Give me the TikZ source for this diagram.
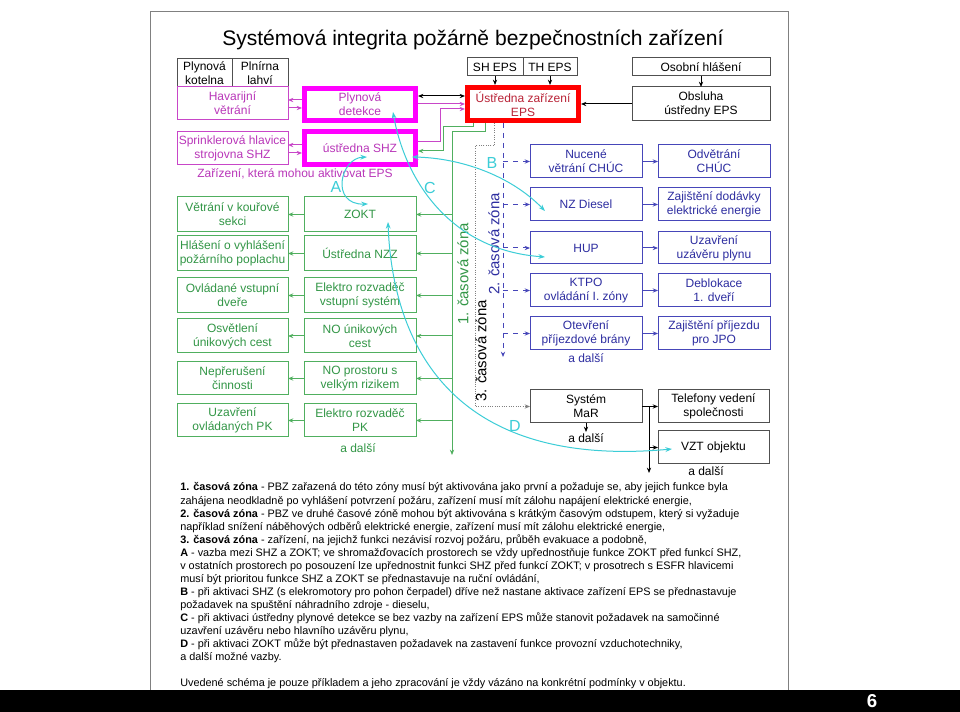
\documentclass[tikz,border=0pt]{standalone}
\usepackage{fontspec}
\setmainfont{Liberation Sans}
\usetikzlibrary{arrows.meta}
\definecolor{mg}{RGB}{200,70,200}
\definecolor{mgt}{RGB}{185,55,185}
\definecolor{mgk}{RGB}{255,0,255}
\definecolor{gr}{RGB}{80,175,95}
\definecolor{grt}{RGB}{50,150,70}
\definecolor{bl}{RGB}{70,70,185}
\definecolor{blt}{RGB}{45,45,160}
\definecolor{rd}{RGB}{255,0,0}
\definecolor{rdt}{RGB}{185,35,55}
\definecolor{cy}{RGB}{60,205,215}
\definecolor{gy}{RGB}{80,80,80}
\newcommand{\bxfont}{\fontsize{9}{10.5}\selectfont}
\newcommand{\mybox}[7]{\node[#1, minimum width={(#4-#2)*0.75pt}, minimum height={(#5-#3)*0.75pt}] (#6) at ({(#2+#4)/2},{(#3+#5)/2}) {#7};}
\newcommand{\fnline}[2]{\node[fnt, anchor=base west] (fn#1) at (180,{491+13.05*#1}) {#2};}
\begin{document}
\begin{tikzpicture}[x=0.75pt,y=-0.75pt,
  basebx/.style={draw, inner sep=1pt, outer sep=0pt, align=center, font=\bxfont, line width=0.75pt},
  kbx/.style={basebx, draw=gy, text=black},
  mbx/.style={basebx, draw=mg, text=mgt},
  mkbx/.style={basebx, draw=mgk, line width=3.75pt, outer sep=1.875pt, text=mgt},
  rbx/.style={basebx, draw=rd, line width=3.75pt, outer sep=1.875pt, text=rdt},
  gbx/.style={basebx, draw=gr, text=grt},
  bbx/.style={basebx, draw=bl, text=blt},
  ar/.style={line width=0.75pt, -{Stealth[length=4pt,width=3.2pt]}},
  dar/.style={line width=0.75pt, {Stealth[length=4pt,width=3.2pt]}-{Stealth[length=4pt,width=3.2pt]}},
  car/.style={cy, line width=0.75pt, {Stealth[length=5pt,width=3.6pt]}-{Stealth[length=5pt,width=3.6pt]}},
  lbl/.style={inner sep=1pt, font=\bxfont},
  cl/.style={text=cy, inner sep=0pt, font=\fontsize{12}{14}\selectfont},
  zl/.style={rotate=90, inner sep=0pt, font=\fontsize{11.2}{13}\selectfont},
  fnt/.style={inner sep=0pt, font=\fontsize{8.15}{9.5}\selectfont}
]
\fill[white] (0,0) rectangle (960,712);
\useasboundingbox (0,0) rectangle (960,712);
\draw[gray, line width=0.75pt] (150,12) rectangle (788,690);
\fill[black] (0,690) rectangle (960,712);
\node[text=white, font=\bfseries\fontsize{14}{14}\selectfont, inner sep=0pt] (pgno) at (872,701.5) {6};

\node[anchor=base west, inner sep=0pt, font=\fontsize{15.8}{18}\selectfont] (title) at (222,46) {Systémová integrita požárně bezpečnostních zařízení};

% top left
\mybox{kbx}{177}{59}{232}{87}{kot}{Plynová\\kotelna}
\mybox{kbx}{232}{59}{288}{87}{pln}{Plnírna\\lahví}
\mybox{mbx}{177}{87}{288}{120}{hav}{Havarijní\\větrání}
\mybox{mkbx}{304.5}{88.5}{415.5}{120.5}{det}{Plynová\\detekce}
\mybox{mbx}{177}{132}{288}{165}{spr}{Sprinklerová hlavice\\strojovna SHZ}
\mybox{mkbx}{304.5}{131.5}{415.5}{164.5}{shz}{ústředna SHZ}
\node[lbl, text=mgt] (zar) at (295,174) {Zařízení, která mohou aktivovat EPS};

% top right
\mybox{kbx}{467}{58}{523}{76}{sh}{SH EPS}
\mybox{kbx}{523}{58}{577}{76}{th}{TH EPS}
\mybox{kbx}{632}{58}{770}{76}{os}{Osobní hlášení}
\mybox{rbx}{467.5}{87.5}{578.5}{120.5}{eps}{Ústředna zařízení\\EPS}
\mybox{kbx}{632}{87}{770}{121}{obs}{Obsluha\\ústředny EPS}

% green boxes
\mybox{gbx}{177}{197}{288}{232}{g1}{Větrání v kouřové\\sekci}
\mybox{gbx}{304}{197}{416}{232}{zokt}{ZOKT}
\mybox{gbx}{177}{236}{288}{271}{g2}{Hlášení o vyhlášení\\požárního poplachu}
\mybox{gbx}{304}{236}{416}{271}{nzz}{Ústředna NZZ}
\mybox{gbx}{177}{278}{288}{313}{g3}{Ovládané vstupní\\dveře}
\mybox{gbx}{304}{278}{416}{313}{erv}{Elektro rozvaděč\\vstupní systém}
\mybox{gbx}{177}{319}{288}{353}{g4}{Osvětlení\\únikových cest}
\mybox{gbx}{304}{319}{416}{353}{nou}{NO únikových\\cest}
\mybox{gbx}{177}{362}{288}{395}{g5}{Nepřerušení\\činnosti}
\mybox{gbx}{304}{362}{416}{395}{nop}{NO prostoru s\\velkým rizikem}
\mybox{gbx}{177}{404}{288}{437}{g6}{Uzavření\\ovládaných PK}
\mybox{gbx}{304}{404}{416}{437}{epk}{Elektro rozvaděč\\PK}
\node[lbl, text=grt] (gdal) at (358,448) {a další};

% blue boxes
\mybox{bbx}{530}{145}{642}{178}{nuc}{Nucené\\větrání CHÚC}
\mybox{bbx}{658}{145}{770}{178}{odv}{Odvětrání\\CHÚC}
\mybox{bbx}{530}{188}{642}{221}{nzd}{NZ Diesel}
\mybox{bbx}{658}{188}{770}{221}{zaj}{Zajištění dodávky\\elektrické energie}
\mybox{bbx}{530}{232}{642}{264}{hup}{HUP}
\mybox{bbx}{658}{232}{770}{264}{uza}{Uzavření\\uzávěru plynu}
\mybox{bbx}{530}{274}{642}{307}{ktpo}{KTPO\\ovládání I. zóny}
\mybox{bbx}{658}{274}{770}{307}{deb}{Deblokace\\1. dveří}
\mybox{bbx}{530}{317}{642}{350}{otv}{Otevření\\příjezdové brány}
\mybox{bbx}{658}{317}{770}{350}{jpo}{Zajištění příjezdu\\pro JPO}
\node[lbl, text=blt] (bdal) at (586,358) {a další};

% black bottom
\mybox{kbx}{530}{390}{642}{423}{mar}{Systém\\MaR}
\mybox{kbx}{658}{390}{769}{423}{tel}{Telefony vedení\\společnosti}
\mybox{kbx}{658}{431}{769}{464}{vzt}{VZT objektu}
\node[lbl, anchor=north] (mdal) at (586,432) {a další};
\node[lbl] (vdal) at (706,471) {a další};

% zone labels
\node[zl, text=grt] (z1) at (463,274) {1. časová zóna};
\node[zl, text=blt] (z2) at (494,244) {2. časová zóna};
\node[zl, text=black] (z3) at (481,351) {3. časová zóna};

% magenta connectors
\draw[ar, mg] (det.west |- 0,100) -- (hav.east |- 0,100);
\draw[ar, mg] (hav.east |- 0,108) -- (det.west |- 0,108);
\draw[ar, mg] (shz.west |- 0,145) -- (spr.east |- 0,145);
\draw[ar, mg] (spr.east |- 0,153) -- (shz.west |- 0,153);
\draw[dar, black] (det.east |- 0,96) -- (eps.west |- 0,96);
\draw[ar, mg] (det.east |- 0,104) -- (eps.west |- 0,104);
\draw[ar, mg] (shz.east |- 0,142) -| (440,109) -- (eps.west |- 0,109);

% black connectors top
\draw[ar, black] (sh.south) -- (sh.south |- eps.north);
\draw[ar, black] (th.south) -- (th.south |- eps.north);
\draw[ar, black] (os.south) -- (obs.north);
\draw[ar, black] (obs.west) -- (obs.west -| eps.east);

% green connectors
\coordinate (gbtop) at (452,132);
\coordinate (gbend) at (452,455);
\draw[ar, gr] (eps.south -| 473,0) |- (443,127) |- (shz.east |- 0,151);
\draw[ar, gr] (eps.south -| 485,0) |- (gbtop) -- (gbend);
\foreach \n in {zokt,nzz,erv,nou,nop,epk} { \draw[ar, gr] (\n.east -| gbtop) -- (\n.east); }
\foreach \a/\b in {zokt/g1,nzz/g2,erv/g3,nou/g4,nop/g5,epk/g6} { \draw[ar, gr] (\a.west) -- (\b.east); }

% gray dotted
\draw[ar, gray, densely dotted] (eps.south -| 494,0) |- (475,146) |- (mar.west);

% blue connectors
\coordinate (bbend) at (503,357);
\draw[ar, bl, dash pattern=on 4pt off 3.5pt] (eps.south -| bbend) -- (bbend);
\foreach \n in {nuc,nzd,hup,ktpo,otv} { \draw[ar, bl, dash pattern=on 4pt off 3.5pt] (\n.west -| bbend) -- (\n.west); }
\foreach \a/\b in {nuc/odv,nzd/zaj,hup/uza,ktpo/deb,otv/jpo} { \draw[ar, bl] (\a.east) -- (\b.west); }

% MaR connectors
\coordinate (mbend) at (649,473);
\draw[ar, black] (mar.east) -- (tel.west);
\draw[ar, black] (mar.east -| mbend) -- (mbend);
\draw[ar, black] (vzt.west -| mbend) -- (vzt.west);
\draw[ar, black] (mar.south) -- (mdal.north);

% cyan relations
\coordinate (cA1) at (367,157);
\coordinate (cA2) at (368,204);
\coordinate (cB1) at (412,157);
\coordinate (cB2) at (545,211);
\coordinate (cC1) at (393,112);
\coordinate (cC2) at (545,257);
\coordinate (cD1) at (388,222);
\coordinate (cD2) at (672,449);
\draw[car] (cA1) .. controls (340,158) and (330,205) .. (cA2);
\draw[car] (cB1) .. controls (460,158) and (510,175) .. (cB2);
\draw[car] (cC1) .. controls (405,180) and (450,250) .. (cC2);
\draw[car] (cD1) .. controls (392,330) and (440,470) .. (cD2);
\node[cl] (lA) at (336,187) {A};
\node[cl] (lB) at (492,163) {B};
\node[cl] (lC) at (430,188) {C};
\node[cl] (lD) at (515,426) {D};

% notes
\fnline{0}{\textbf{1. časová zóna} - PBZ zařazená do této zóny musí být aktivována jako první a požaduje se, aby jejich funkce byla}
\fnline{1}{zahájena neodkladně po vyhlášení potvrzení požáru, zařízení musí mít zálohu napájení elektrické energie,}
\fnline{2}{\textbf{2. časová zóna} - PBZ ve druhé časové zóně mohou být aktivována s krátkým časovým odstupem, který si vyžaduje}
\fnline{3}{například snížení náběhových odběrů elektrické energie, zařízení musí mít zálohu elektrické energie,}
\fnline{4}{\textbf{3. časová zóna} - zařízení, na jejichž funkci nezávisí rozvoj požáru, průběh evakuace a podobně,}
\fnline{5}{\textbf{A} - vazba mezi SHZ a ZOKT; ve shromažďovacích prostorech se vždy upřednostňuje funkce ZOKT před funkcí SHZ,}
\fnline{6}{v ostatních prostorech po posouzení lze upřednostnit funkci SHZ před funkcí ZOKT; v prosotrech s ESFR hlavicemi}
\fnline{7}{musí být prioritou funkce SHZ a ZOKT se přednastavuje na ruční ovládání,}
\fnline{8}{\textbf{B} - při aktivaci SHZ (s elekromotory pro pohon čerpadel) dříve než nastane aktivace zařízení EPS se přednastavuje}
\fnline{9}{požadavek na spuštění náhradního zdroje - dieselu,}
\fnline{10}{\textbf{C} - při aktivaci ústředny plynové detekce se bez vazby na zařízení EPS může stanovit požadavek na samočinné}
\fnline{11}{uzavření uzávěru nebo hlavního uzávěru plynu,}
\fnline{12}{\textbf{D} - při aktivaci ZOKT může být přednastaven požadavek na zastavení funkce provozní vzduchotechniky,}
\fnline{13}{a další možné vazby.}
\node[fnt, anchor=base west] (fn14) at (180,686) {Uvedené schéma je pouze příkladem a jeho zpracování je vždy vázáno na konkrétní podmínky v objektu.};
\end{tikzpicture}
\end{document}
